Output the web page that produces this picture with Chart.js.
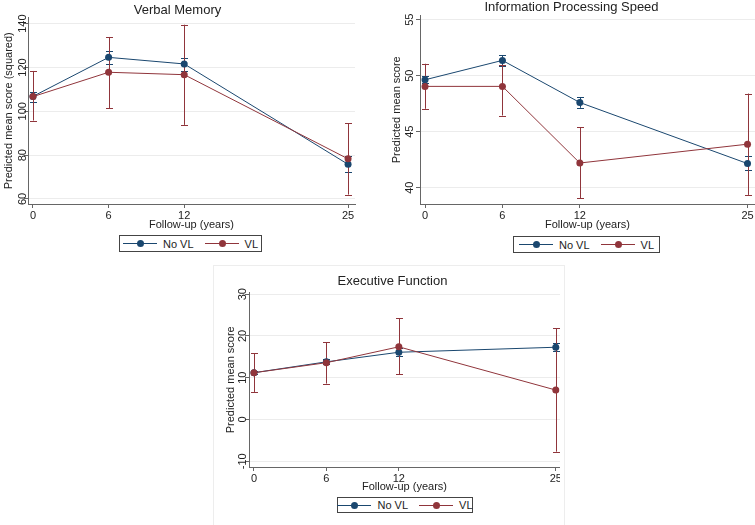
<!DOCTYPE html>
<html lang="en">
<head>
<meta charset="UTF-8" />
<title>Predicted mean scores by VL status</title>
<script src="https://cdn.jsdelivr.net/npm/chart.js"></script>
<style>
  body { margin: 0; background: #fff; font-family: "Liberation Sans", Arial, sans-serif; color: #222; }
  #page { position: relative; width: 755px; height: 525px; overflow: hidden; }
  canvas { position: absolute; }
  .clip { position: absolute; overflow: hidden; }
  .frame { position: absolute; border: 1px solid #ededed; }
  .legend {
    position: absolute; box-sizing: border-box; height: 17px;
    border: 1px solid #444; background: #fff;
    display: flex; align-items: center; justify-content: center;
    font-size: 11px; color: #222; white-space: nowrap;
  }
  .legend span { flex-shrink: 0; }
  .sym { display: inline-block; position: relative; width: 34px; height: 1px; margin: 0 6px 0 0; }
  .sym::after {
    content: ""; position: absolute; left: 14px; top: -3px;
    width: 7px; height: 7px; border-radius: 50%; background: inherit;
  }
  .gap { display: inline-block; width: 11px; }
  .navy { background: #1a476f; }
  .maroon { background: #90353b; }
</style>
</head>
<body>
<div id="page">
  <div class="frame" style="left:213px;top:265px;width:350px;height:262px"></div>
  <canvas id="vm" width="375" height="234" style="left:0;top:0"></canvas>
  <canvas id="ips" width="400" height="234" style="left:375px;top:0"></canvas>
  <div class="clip" style="left:213px;top:262px;width:347px;height:234px">
    <canvas id="ef" width="367" height="234" style="left:0;top:0"></canvas>
  </div>

  <div class="legend" style="left:119px;top:235px;width:143px">
    <span class="sym navy"></span><span>No VL</span><span class="gap"></span>
    <span class="sym maroon"></span><span>VL</span>
  </div>
  <div class="legend" style="left:513px;top:236px;width:147px">
    <span class="sym navy"></span><span>No VL</span><span class="gap"></span>
    <span class="sym maroon"></span><span>VL</span>
  </div>
  <div class="legend" style="left:337px;top:497px;width:136px;height:16px">
    <span class="sym navy"></span><span>No VL</span><span class="gap"></span>
    <span class="sym maroon"></span><span>VL</span>
  </div>
</div>

<script>
// follow-up years (x positions)
const years = [0, 6, 12, 25];
const xTicks = [0, 6, 12, 25];

// Verbal Memory (squared)
const vmNoVL   = [106.8, 124.6, 121.6, 75.8];
const vmNoVLLo = [104.2, 121.6, 118.5, 72.2];
const vmNoVLHi = [109.0, 127.3, 124.5, 79.4];
const vmVL     = [106.7, 117.8, 116.7, 78.3];
const vmVLLo   = [95.8, 101.5, 93.8, 62.0];
const vmVLHi   = [118.4, 133.9, 139.5, 94.6];
const vmTicks  = [60, 80, 100, 120, 140];

// Information Processing Speed
const ipsNoVL   = [49.63, 51.36, 47.6, 42.15];
const ipsNoVLLo = [49.3, 50.9, 47.13, 41.55];
const ipsNoVLHi = [50.0, 51.8, 48.05, 42.8];
const ipsVL     = [49.04, 49.04, 42.2, 43.88];
const ipsVLLo   = [47.04, 46.44, 39.05, 39.35];
const ipsVLHi   = [51.06, 50.97, 45.4, 48.4];
const ipsTicks  = [40, 45, 50, 55];

// Executive Function
const efNoVL   = [11.2, 13.8, 16.1, 17.3];
const efNoVLLo = [10.8, 13.2, 15.1, 16.4];
const efNoVLHi = [11.6, 14.5, 17.2, 18.2];
const efVL     = [11.2, 13.6, 17.4, 7.05];
const efVLLo   = [6.6, 8.6, 10.8, -7.7];
const efVLHi   = [15.85, 18.5, 24.2, 21.8];
const efTicks  = [-10, 0, 10, 20, 30];

const NAVY = "#1a476f";
const MAROON = "#90353b";
const FONT = "'Liberation Sans', Arial, sans-serif";

// draws the confidence interval caps for every dataset that has lo/hi
const errorBars = {
  id: "errorBars",
  beforeDatasetsDraw(chart) {
    const { ctx, scales: { x, y } } = chart;
    ctx.save();
    chart.data.datasets.forEach((ds) => {
      if (!ds.lo) return;
      ctx.strokeStyle = ds.borderColor;
      ctx.lineWidth = 1;
      ds.data.forEach((pt, i) => {
        const px = Math.round(x.getPixelForValue(pt.x)) + 0.5;
        const y1 = y.getPixelForValue(ds.lo[i]);
        const y2 = y.getPixelForValue(ds.hi[i]);
        ctx.beginPath();
        ctx.moveTo(px, y1); ctx.lineTo(px, y2);
        ctx.moveTo(px - 3.5, Math.round(y1) + 0.5); ctx.lineTo(px + 3.5, Math.round(y1) + 0.5);
        ctx.moveTo(px - 3.5, Math.round(y2) + 0.5); ctx.lineTo(px + 3.5, Math.round(y2) + 0.5);
        ctx.stroke();
      });
    });
    ctx.restore();
  }
};

function series(label, vals, lo, hi, color, order) {
  return {
    label: label,
    data: years.map((yr, i) => ({ x: yr, y: vals[i] })),
    lo: lo,
    hi: hi,
    borderColor: color,
    backgroundColor: color,
    borderWidth: 1,
    pointRadius: 3.5,
    pointBorderWidth: 0,
    tension: 0,
    order: order
  };
}

function makePanel(id, p) {
  new Chart(document.getElementById(id), {
    type: "line",
    data: {
      datasets: [
        series("No VL", p.noVL, p.noVLLo, p.noVLHi, NAVY, 1),
        series("VL", p.vl, p.vlLo, p.vlHi, MAROON, 0)
      ]
    },
    plugins: [errorBars],
    options: {
      responsive: false,
      devicePixelRatio: 1,
      animation: false,
      layout: { padding: { left: p.padLeft, right: p.padRight, top: 0, bottom: 0 } },
      plugins: {
        legend: { display: false },
        tooltip: { enabled: false },
        title: {
          display: true,
          text: p.title,
          color: "#222",
          font: { family: FONT, size: 13, weight: "normal" },
          padding: p.titlePad
        }
      },
      scales: {
        x: {
          type: "linear",
          min: p.xMin,
          max: p.xMax,
          afterBuildTicks: (s) => { s.ticks = xTicks.map((v) => ({ value: v })); },
          afterFit: (s) => { s.height = p.xHeight; },
          border: { color: "#666", width: 1 },
          grid: { drawOnChartArea: false, tickLength: 4, tickColor: "#666" },
          ticks: { color: "#222", padding: 1, maxRotation: 0, font: { family: FONT, size: 11 } },
          title: {
            display: true,
            text: "Follow-up (years)",
            color: "#222",
            font: { family: FONT, size: 11 },
            padding: { top: 0, bottom: 2 }
          }
        },
        y: {
          min: p.yMin,
          max: p.yMax,
          afterBuildTicks: (s) => { s.ticks = p.yTicks.map((v) => ({ value: v })); },
          afterFit: (s) => { s.width = p.yWidth; },
          border: { color: "#666", width: 1 },
          grid: { color: "#ececec", tickLength: 4, tickColor: "#666" },
          ticks: {
            color: "#222",
            minRotation: 90,
            maxRotation: 90,
            crossAlign: "center",
            padding: p.yTickPad,
            font: { family: FONT, size: 11 }
          },
          title: {
            display: true,
            text: p.yTitle,
            color: "#222",
            font: { family: FONT, size: 11 },
            padding: { top: p.yTitlePad, bottom: 0 }
          }
        }
      }
    }
  });
}

makePanel("vm", {
  title: "Verbal Memory",
  yTitle: "Predicted mean score (squared)",
  noVL: vmNoVL, noVLLo: vmNoVLLo, noVLHi: vmNoVLHi,
  vl: vmVL, vlLo: vmVLLo, vlHi: vmVLHi,
  yTicks: vmTicks, yMin: 57.71, yMax: 142.74,
  xMin: -0.396, xMax: 25.55,
  padLeft: 0, padRight: 20, yWidth: 28, xHeight: 30,
  titlePad: { top: 3, bottom: -1 }, yTickPad: -8, yTitlePad: 2
});

// canvas runs 20px past the visible edge so the last tick sits where it should
makePanel("ips", {
  title: "Information Processing Speed",
  yTitle: "Predicted mean score",
  noVL: ipsNoVL, noVLLo: ipsNoVLLo, noVLHi: ipsNoVLHi,
  vl: ipsVL, vlLo: ipsVLLo, vlHi: ipsVLHi,
  yTicks: ipsTicks, yMin: 38.54, yMax: 55.36,
  xMin: -0.39, xMax: 25.58,
  padLeft: 13, padRight: 20, yWidth: 32, xHeight: 30,
  titlePad: { top: 0, bottom: 0 }, yTickPad: 0, yTitlePad: 2
});

makePanel("ef", {
  title: "Executive Function",
  yTitle: "Predicted mean score",
  noVL: efNoVL, noVLLo: efNoVLLo, noVLHi: efNoVLHi,
  vl: efVL, vlLo: efVLLo, vlHi: efVLHi,
  yTicks: efTicks, yMin: -11.37, yMax: 30.38,
  xMin: -0.41, xMax: 25.35,
  padLeft: 12, padRight: 20, yWidth: 24, xHeight: 29,
  titlePad: { top: 12, bottom: 3 }, yTickPad: -6, yTitlePad: -1
});
</script>
</body>
</html>
